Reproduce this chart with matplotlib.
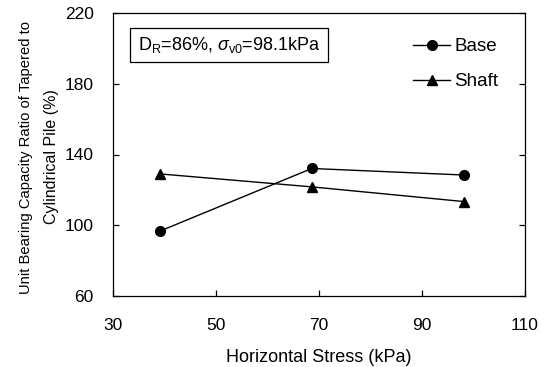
import matplotlib
matplotlib.use("Agg")
import matplotlib.pyplot as plt

plt.rcParams['font.family'] = ['Liberation Sans', 'DejaVu Sans']
plt.rcParams['mathtext.fontset'] = 'custom'
plt.rcParams['mathtext.rm'] = 'Liberation Sans'
plt.rcParams['mathtext.it'] = 'Liberation Sans:italic'

horizontal_stress = [39.2, 68.6, 98.1]
base_ratio = [96.8, 132.1, 128.4]
shaft_ratio = [129.0, 121.7, 113.4]

x_ticks = [30, 50, 70, 90, 110]
y_ticks = [60, 100, 140, 180, 220]

W, H = 544, 367
fig = plt.figure(figsize=(W / 100, H / 100), dpi=100)
ax = fig.add_axes([113 / W, 1 - 296 / H, 412 / W, 283 / H])

ax.plot(horizontal_stress, base_ratio, color='black', lw=1.0, marker='o',
        markersize=7, label='Base')
ax.plot(horizontal_stress, shaft_ratio, color='black', lw=1.0, marker='^',
        markersize=7, label='Shaft')

ax.set_xlim(30, 110)
ax.set_ylim(60, 220)
ax.set_xticks(x_ticks)
ax.set_yticks(y_ticks)
ax.tick_params(direction='in', length=4, width=0.9, labelsize=12.5,
               right=True, top=False)
ax.tick_params(axis='x', pad=16)
ax.tick_params(axis='y', pad=14)
for s in ax.spines.values():
    s.set_linewidth(0.9)

ax.set_xlabel('Horizontal Stress (kPa)', fontsize=13, labelpad=11)

# two-line y-axis title
fig.text(26 / W, 1 - 158 / H, 'Unit Bearing Capacity Ratio of Tapered to',
         rotation=90, ha='center', va='center', fontsize=10.6)
fig.text(52 / W, 1 - 157 / H, 'Cylindrical Pile (%)',
         rotation=90, ha='center', va='center', fontsize=11.5)

ax.text((229 - 113) / 412, (296 - 45) / 283,
        r'D$_\mathregular{R}$=86%, $\sigma_\mathregular{v0}$=98.1kPa',
        transform=ax.transAxes, fontsize=13, ha='center', va='center',
        bbox=dict(boxstyle='square,pad=0.4', fc='white', ec='black', lw=0.9))

ax.legend(loc='upper right', bbox_to_anchor=((498 - 113) / 412, (296 - 38) / 283),
          frameon=False, fontsize=13.5, borderpad=0, borderaxespad=0,
          handlelength=2.0, handletextpad=0.2, labelspacing=0.95)

fig.savefig('out.png', dpi=100)
